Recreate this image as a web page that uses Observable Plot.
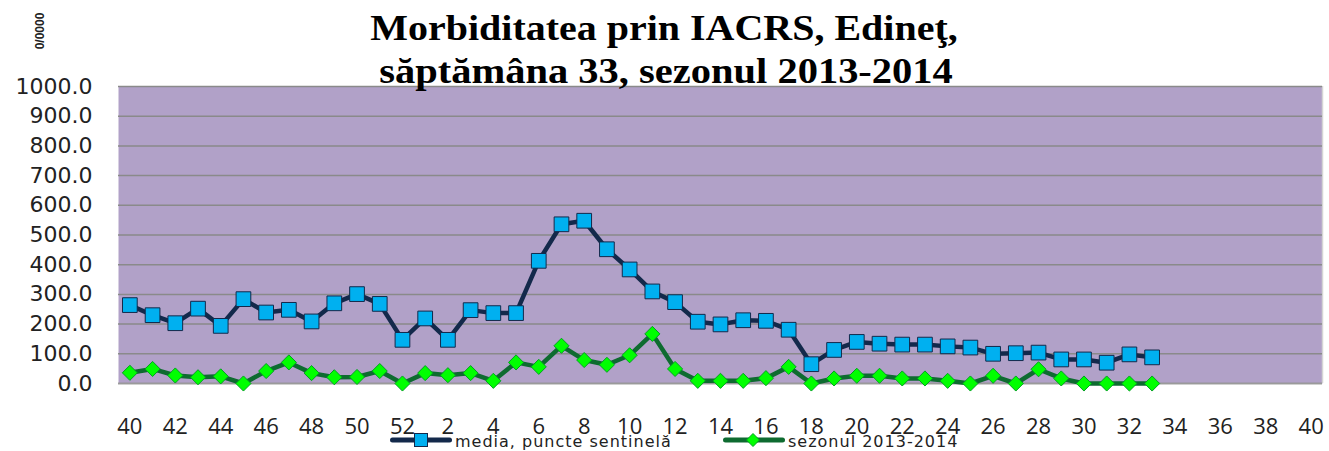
<!DOCTYPE html>
<html>
<head>
<meta charset="utf-8">
<script src="https://cdn.jsdelivr.net/npm/d3@7"></script>
<script src="https://cdn.jsdelivr.net/npm/@observablehq/plot@0.6"></script>
<style>
  html, body { margin: 0; padding: 0; background: #fff; }
  #wrap { position: relative; width: 1329px; height: 451px; overflow: hidden; }
  .title { position: absolute; font-family: "Liberation Serif", "Times New Roman", serif; font-weight: bold;
           font-size: 35px; line-height: 35px; white-space: nowrap; color: #000; transform-origin: 50% 50%; }
  #unit { position: absolute; left: 40px; top: 31px; font-family: "Liberation Sans", Arial, sans-serif; font-weight: bold;
          font-size: 12px; transform: translate(-50%, -50%) rotate(-90deg); white-space: nowrap; color: #222; }
  .legtext { position: absolute; font-family: "DejaVu Sans", sans-serif; font-size: 16px; line-height: 16px;
             letter-spacing: 1px; color: #222; white-space: nowrap; }
  .legicon { position: absolute; }
</style>
</head>
<body>
<div id="wrap">
  <div id="chart"></div>
  <div class="title" style="left:663.5px; top:10.7px; transform: translateX(-50%) scaleX(1.142);">Morbiditatea prin IACRS, Edineţ,</div>
  <div class="title" style="left:666px; top:53.7px; transform: translateX(-50%) scaleX(1.157);">săptămâna 33, sezonul 2013-2014</div>
  <div id="unit">0/0000</div>
  <svg class="legicon" style="left:390px; top:432px;" width="62" height="16"><line x1="2.5" y1="8" x2="59.5" y2="8" stroke="#13294B" stroke-width="5" stroke-linecap="round"/><rect x="24.5" y="1.5" width="13" height="13" fill="#00B0F0" stroke="#13294B" stroke-width="1"/></svg>
  <div class="legtext" style="left:455px; top:433.5px;">media, puncte sentinelă</div>
  <svg class="legicon" style="left:723px; top:432px;" width="62" height="16"><line x1="2.5" y1="8" x2="59.5" y2="8" stroke="#0E6B30" stroke-width="5" stroke-linecap="round"/><path d="M30 1.5 L36.5 8 L30 14.5 L23.5 8 Z" fill="#00FF00" stroke="#00A020" stroke-width="1"/></svg>
  <div class="legtext" style="left:788px; top:433.5px;">sezonul 2013-2014</div>
</div>
<script>
const weeks = [40,41,42,43,44,45,46,47,48,49,50,51,52,
  1,2,3,4,5,6,7,8,9,10,11,12,13,14,15,16,17,18,19,20,21,22,23,24,25,26,27,28,29,30,31,32,33,34,35,36,37,38,39,40];
const media = [264,230,203,252,194,284,239,248,209,270,301,268,147,
  219,147,247,237,237,413,536,548,452,384,310,274,208,199,213,211,181,65,113,140,134,131,131,125,121,100,102,104,81,81,70,98,88];
const sezon = [36,49,27,21,24,0,42,71,35,21,22,42,0,
  35,28,35,9,71,56,127,79,63,95,167,49,9,9,9,18,56,0,17,26,26,17,17,9,0,26,0,48,17,0,0,0,0];
const yTicks = [0,100,200,300,400,500,600,700,800,900,1000];

const data = media.map((v, i) => ({i, week: weeks[i], media: v, sezon: sezon[i]}));
const xTicks = d3.range(0, weeks.length, 2);

const chart = Plot.plot({
  width: 1329, height: 451,
  marginLeft: 118, marginRight: 7, marginTop: 86, marginBottom: 68,
  style: {background: "transparent", overflow: "visible"},
  x: {domain: [-0.5, weeks.length - 0.5], axis: null},
  y: {domain: [0, 1000], axis: null},
  marks: [
    Plot.frame({fill: "#B1A1C8", stroke: null}),
    Plot.ruleX([weeks.length - 0.5], {stroke: "#d4d4d4", strokeWidth: 1.5}),
    Plot.gridY(yTicks, {stroke: "#8a8a8a", strokeOpacity: 1, strokeWidth: 1.5}),
    Plot.ruleY([0], {stroke: "#9a9a9a", strokeWidth: 1.5}),
    Plot.line(data, {x: "i", y: "media", stroke: "#13294B", strokeWidth: 4.5}),
    Plot.dot(data, {x: "i", y: "media", symbol: "square", r: 8.3, fill: "#00B0F0", stroke: "#13294B", strokeWidth: 1}),
    Plot.line(data, {x: "i", y: "sezon", stroke: "#0E6B30", strokeWidth: 4.5}),
    Plot.dot(data, {x: "i", y: "sezon", symbol: "diamond2", r: 6.8, fill: "#00FF00", stroke: "#00A020", strokeWidth: 1}),
    Plot.axisY(yTicks, {tickSize: 0, tickPadding: 26, tickFormat: d3.format(".1f"), fontSize: 22, fontFamily: "DejaVu Sans", fill: "#222", label: null}),
    Plot.axisX(xTicks, {tickSize: 0, tickPadding: 35, tickFormat: i => weeks[i], fontSize: 22, fontFamily: "'Open Sans', sans-serif", fill: "#222", label: null})
  ]
});
document.getElementById("chart").appendChild(chart);
</script>
</body>
</html>
